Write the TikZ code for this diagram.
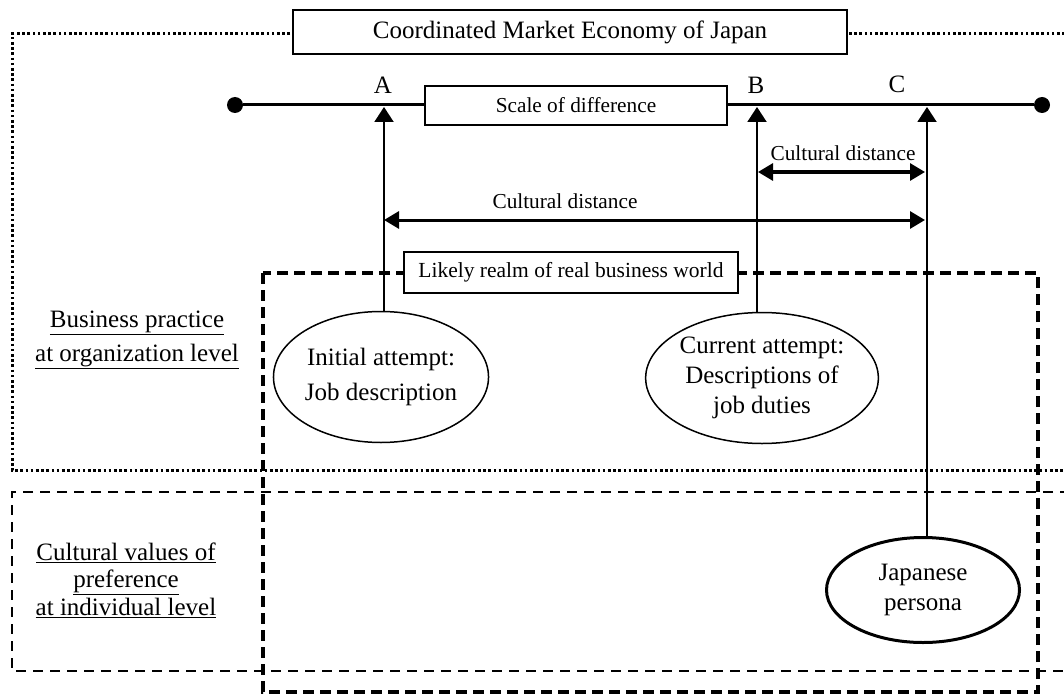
\documentclass[tikz,border=0pt]{standalone}
\usepackage{fontspec}
\setmainfont{Liberation Serif}
\usetikzlibrary{shapes.geometric,arrows.meta}
\begin{document}
\begin{tikzpicture}[x=1pt,y=-1pt,
  bigtext/.style={font=\fontsize{25}{34}\selectfont},
  smalltext/.style={font=\fontsize{21.3}{26}\selectfont},
  labelbox/.style={draw, line width=1.3pt, fill=white, inner sep=0pt},
  oval/.style={ellipse, draw, line width=1.5pt, inner sep=0pt, align=center, fill=white},
  dotline/.style={line width=3pt, dash pattern=on 2.6pt off 2.6pt},
  dashline/.style={line width=2pt, dash pattern=on 10pt off 7pt},
  thickdash/.style={line width=4pt, dash pattern=on 11pt off 6pt},
  vline/.style={line width=2pt, -{Triangle[length=15pt,width=19pt]}},
  dist/.style={line width=3pt, {Triangle[length=15pt,width=17pt]}-{Triangle[length=15pt,width=17pt]}},
  enddot/.style={circle, fill=black, inner sep=0pt, minimum size=16pt}
]
\useasboundingbox (0,0) rectangle (1064,695);

% frames
\draw[dotline] (1070,34) -- (12,34) -- (12,470.5) -- (1070,470.5);
\draw[dashline] (1070,492) -- (12,492) -- (12,671) -- (1070,671);
\draw[thickdash] (263,273) rectangle (1038,692);

% scale line
\node[enddot] (ldot) at (235,105) {};
\node[enddot] (rdot) at (1042,105) {};
\draw[line width=3pt] (ldot) -- (rdot);

% labels A B C
\node[bigtext] (labA) at (383,85) {A};
\node[bigtext] (labB) at (756,85) {B};
\node[bigtext] (labC) at (897,84) {C};

% arrow targets on the scale
\coordinate (aT) at (384,107);
\coordinate (bT) at (757,107);
\coordinate (cT) at (927,107);

% ovals
\node[oval, bigtext, font=\fontsize{25}{35}\selectfont, minimum width=212pt, minimum height=131pt] (ellA) at (381,377)
  {Initial attempt:\\Job description};
\node[oval, bigtext, font=\fontsize{25}{30}\selectfont, minimum width=200pt, minimum height=131pt] (ellB) at (762,378)
  {Current attempt:\\Descriptions of\\job duties};
\node[oval, line width=3pt, font=\fontsize{25}{30}\selectfont, minimum width=193pt, minimum height=105pt] (ellC) at (923,590)
  {Japanese\\persona};

% vertical arrows
\draw[vline] (ellA.north -| aT) -- (aT);
\draw[vline] (ellB.north -| bT) -- (bT);
\draw[vline] (ellC.north -| cT) -- (cT);

% cultural distance arrows
\coordinate (d1L) at (384,220);
\coordinate (d1R) at (925,220);
\coordinate (d2L) at (758,172);
\coordinate (d2R) at (925,172);
\draw[dist] (d1L) -- (d1R);
\draw[dist] (d2L) -- (d2R);
\node[smalltext] (cd1) at (565,201) {Cultural distance};
\node[smalltext] (cd2) at (843,153) {Cultural distance};

% label boxes
\node[labelbox, bigtext, minimum width=554pt, minimum height=44pt] (cme) at (570,32)
  {Coordinated Market Economy of Japan};
\node[labelbox, smalltext, minimum width=302pt, minimum height=39pt] (scale) at (576,105.5)
  {Scale of difference};
\node[labelbox, smalltext, font=\fontsize{21.5}{26}\selectfont, minimum width=334pt, minimum height=41pt] (realm) at (571,272.5)
  {Likely realm of real business world};

% side labels
\node[align=center, font=\fontsize{25}{34}\selectfont] (bizlab) at (137,340)
  {\underline{Business practice}\\\underline{at organization level}};
\node[align=center, font=\fontsize{25}{27.5}\selectfont] (cullab) at (126,580)
  {\underline{Cultural values of}\\\underline{preference}\\\underline{at individual level}};
\end{tikzpicture}
\end{document}
